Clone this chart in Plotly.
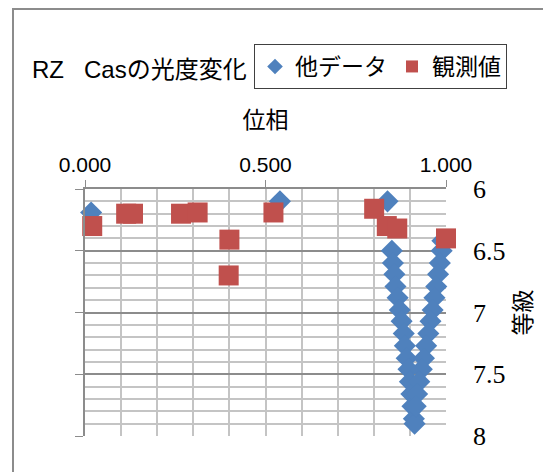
import plotly.graph_objects as go

# 他データ: phase / magnitude of reference light-curve points
other_phase = [0.017, 0.540, 0.838,
               0.850, 0.853, 0.857, 0.860, 0.866, 0.872, 0.877, 0.883,
               0.886, 0.891, 0.896, 0.900, 0.904, 0.907, 0.911, 0.913,
               0.990, 0.988, 0.983, 0.978, 0.973, 0.968, 0.963, 0.957,
               0.951, 0.945, 0.939, 0.933, 0.926, 0.920, 0.916]
other_mag = [6.19, 6.10, 6.10,
             6.50, 6.60, 6.69, 6.79, 6.88, 6.98, 7.07, 7.17,
             7.27, 7.37, 7.46, 7.56, 7.66, 7.76, 7.86, 7.90,
             6.42, 6.50, 6.60, 6.69, 6.79, 6.88, 6.98, 7.07,
             7.17, 7.27, 7.37, 7.46, 7.56, 7.66, 7.76]

# 観測値: own observations
obs_phase = [0.020, 0.114, 0.133, 0.266, 0.312, 0.400, 0.398, 0.522,
             0.801, 0.836, 0.865, 1.000]
obs_mag = [6.30, 6.20, 6.20, 6.20, 6.19, 6.41, 6.70, 6.19,
           6.16, 6.30, 6.32, 6.40]

x_ticks = [0.0, 0.5, 1.0]
y_ticks = [6, 6.5, 7, 7.5, 8]
y_tick_text = ["6", "6.5", "7", "7.5", "8"]

SANS = "Liberation Sans, Noto Sans CJK JP, sans-serif"
SERIF = "Liberation Serif, serif"
BLUE = "#4F81BD"
RED = "#C0504D"
MINOR = "#c4c4c4"
MAJOR = "#8c8c8c"

fig = go.Figure()
fig.add_trace(go.Scatter(
    x=other_phase, y=other_mag, mode="markers", name="他データ",
    cliponaxis=False,
    marker=dict(symbol="diamond", size=17, color=BLUE, line=dict(width=0)),
))
fig.add_trace(go.Scatter(
    x=obs_phase, y=obs_mag, mode="markers", name="観測値",
    cliponaxis=False,
    marker=dict(symbol="square", size=20, color=RED, line=dict(width=0)),
))
# right-hand axis carrying the magnitude labels
fig.add_trace(go.Scatter(x=[None], y=[None], yaxis="y2", showlegend=False,
                         hoverinfo="skip"))

fig.update_layout(
    width=543, height=472,
    margin=dict(l=85, r=97, t=189, b=36),
    paper_bgcolor="white", plot_bgcolor="white",
    font=dict(family=SANS, size=21, color="#000000"),
    title=dict(text="RZ\u00a0\u00a0\u00a0Casの光度変化", x=32 / 543, xanchor="left",
               y=1 - 70 / 472, yanchor="middle",
               font=dict(family=SANS, size=24, color="#000000")),
    showlegend=True,
    legend=dict(orientation="h", x=(254 - 85) / 361, xanchor="left",
                y=(436 - 44) / 247, yanchor="top",
                bordercolor="#404040", borderwidth=1, bgcolor="white",
                itemsizing="constant",
                font=dict(family=SANS, size=23, color="#000000")),
    xaxis=dict(
        side="top", range=[0, 1], tickvals=x_ticks, tickformat=".3f",
        ticks="outside", ticklen=7, tickcolor=MAJOR,
        showline=True, linecolor=MAJOR, linewidth=1.5,
        showgrid=True, gridcolor=MINOR, gridwidth=1.5, zeroline=False,
        minor=dict(dtick=0.1, showgrid=True, gridcolor=MINOR, gridwidth=1.5),
        tickfont=dict(family=SANS, size=21, color="#000000"),
        title=dict(text="位相", standoff=18,
                   font=dict(family=SANS, size=23, color="#000000")),
    ),
    yaxis=dict(
        range=[8, 6], tickvals=y_ticks, showticklabels=False,
        ticks="outside", ticklen=8, tickcolor=MAJOR,
        showline=True, linecolor=MAJOR, linewidth=1.5,
        showgrid=True, gridcolor=MAJOR, gridwidth=1.5, zeroline=False,
        minor=dict(dtick=0.1, showgrid=True, gridcolor=MINOR, gridwidth=1.5),
    ),
    yaxis2=dict(
        overlaying="y", side="right", range=[8, 6],
        tickvals=y_ticks, ticktext=y_tick_text, ticks="",
        showgrid=False, zeroline=False, showline=False,
        ticklabelstandoff=26,
        tickfont=dict(family=SERIF, size=26, color="#000000"),
        title=dict(text="等級", standoff=10,
                   font=dict(family=SANS, size=23, color="#000000")),
    ),
    shapes=[dict(type="rect", xref="paper", yref="paper",
                 x0=(13 - 85) / 361, x1=2.0, y0=-1.0, y1=(436 - 9) / 247,
                 line=dict(color="#8c8c8c", width=2), layer="below")],
)

fig.write_html("out.html")
